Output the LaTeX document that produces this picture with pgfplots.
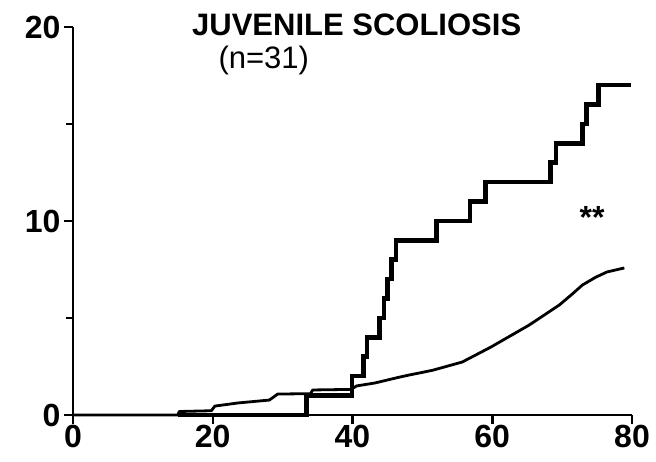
\documentclass[border=0pt]{standalone}
\usepackage{fontspec}
\setmainfont{Liberation Sans}
\usepackage{pgfplots}
\pgfplotsset{compat=1.18}

\begin{document}
\begin{tikzpicture}
	\path[use as bounding box] (-73bp,-47bp) rectangle (583bp,415bp);
	\begin{axis}[
			scale only axis,
			width=559bp,
			height=388bp,
			at={(0,0)}, anchor=south west,
			xmin=0, xmax=80,
			ymin=0, ymax=20,
			axis x line=bottom,
			axis y line=left,
			axis line style={-, line width=2.8bp},
			xtick={0,20,40,60,80},
			ytick={0,10,20},
			minor ytick={5,15},
			tick align=outside,
			major tick length=9bp,
			minor tick length=7bp,
			every tick/.style={black, line width=2.5bp},
			ticklabel style={font=\fontsize{32bp}{34bp}\selectfont\bfseries},
			xticklabel style={yshift=2bp},
			/pgf/number format/assume math mode=true,
			clip=false
		]

		% observed (step curve)
		\addplot [const plot, black, line width=4.6bp] coordinates {
			(15,0) (33.4,1) (39.9,2) (41.6,3) (42.1,4) (43.9,5) (44.5,6)
			(45.0,7) (45.6,8) (46.2,9) (52.0,10) (56.8,11) (59.0,12)
			(68.3,13) (69.1,14) (72.9,15) (73.5,16) (75.2,17) (79.9,17)
		};

		% expected (smooth curve)
		\addplot [black, line width=2.8bp, line join=round] coordinates {
			(0,0) (15,0) (15.2,0.18) (19.8,0.22) (20.3,0.46) (23.6,0.62)
			(28.1,0.77) (29.3,1.08) (34.0,1.10) (34.3,1.29) (39.8,1.32)
			(40.6,1.50) (43.2,1.65) (46.7,1.95) (48.1,2.06) (51.4,2.30)
			(55.7,2.73) (59.8,3.50) (65.3,4.64) (69.6,5.67) (71.5,6.25)
			(72.9,6.70) (74.8,7.10) (76.4,7.37) (78.9,7.58)
		};

		\node[font=\fontsize{31bp}{33bp}\selectfont\bfseries] at (axis cs:40.6,20.1) {JUVENILE SCOLIOSIS};
		\node[font=\fontsize{31bp}{33bp}\selectfont] at (axis cs:27.3,18.3) {(n=31)};
		\node[font=\fontsize{32bp}{34bp}\selectfont\bfseries] at (axis cs:74.3,10.2) {**};
	\end{axis}
\end{tikzpicture}
\end{document}
